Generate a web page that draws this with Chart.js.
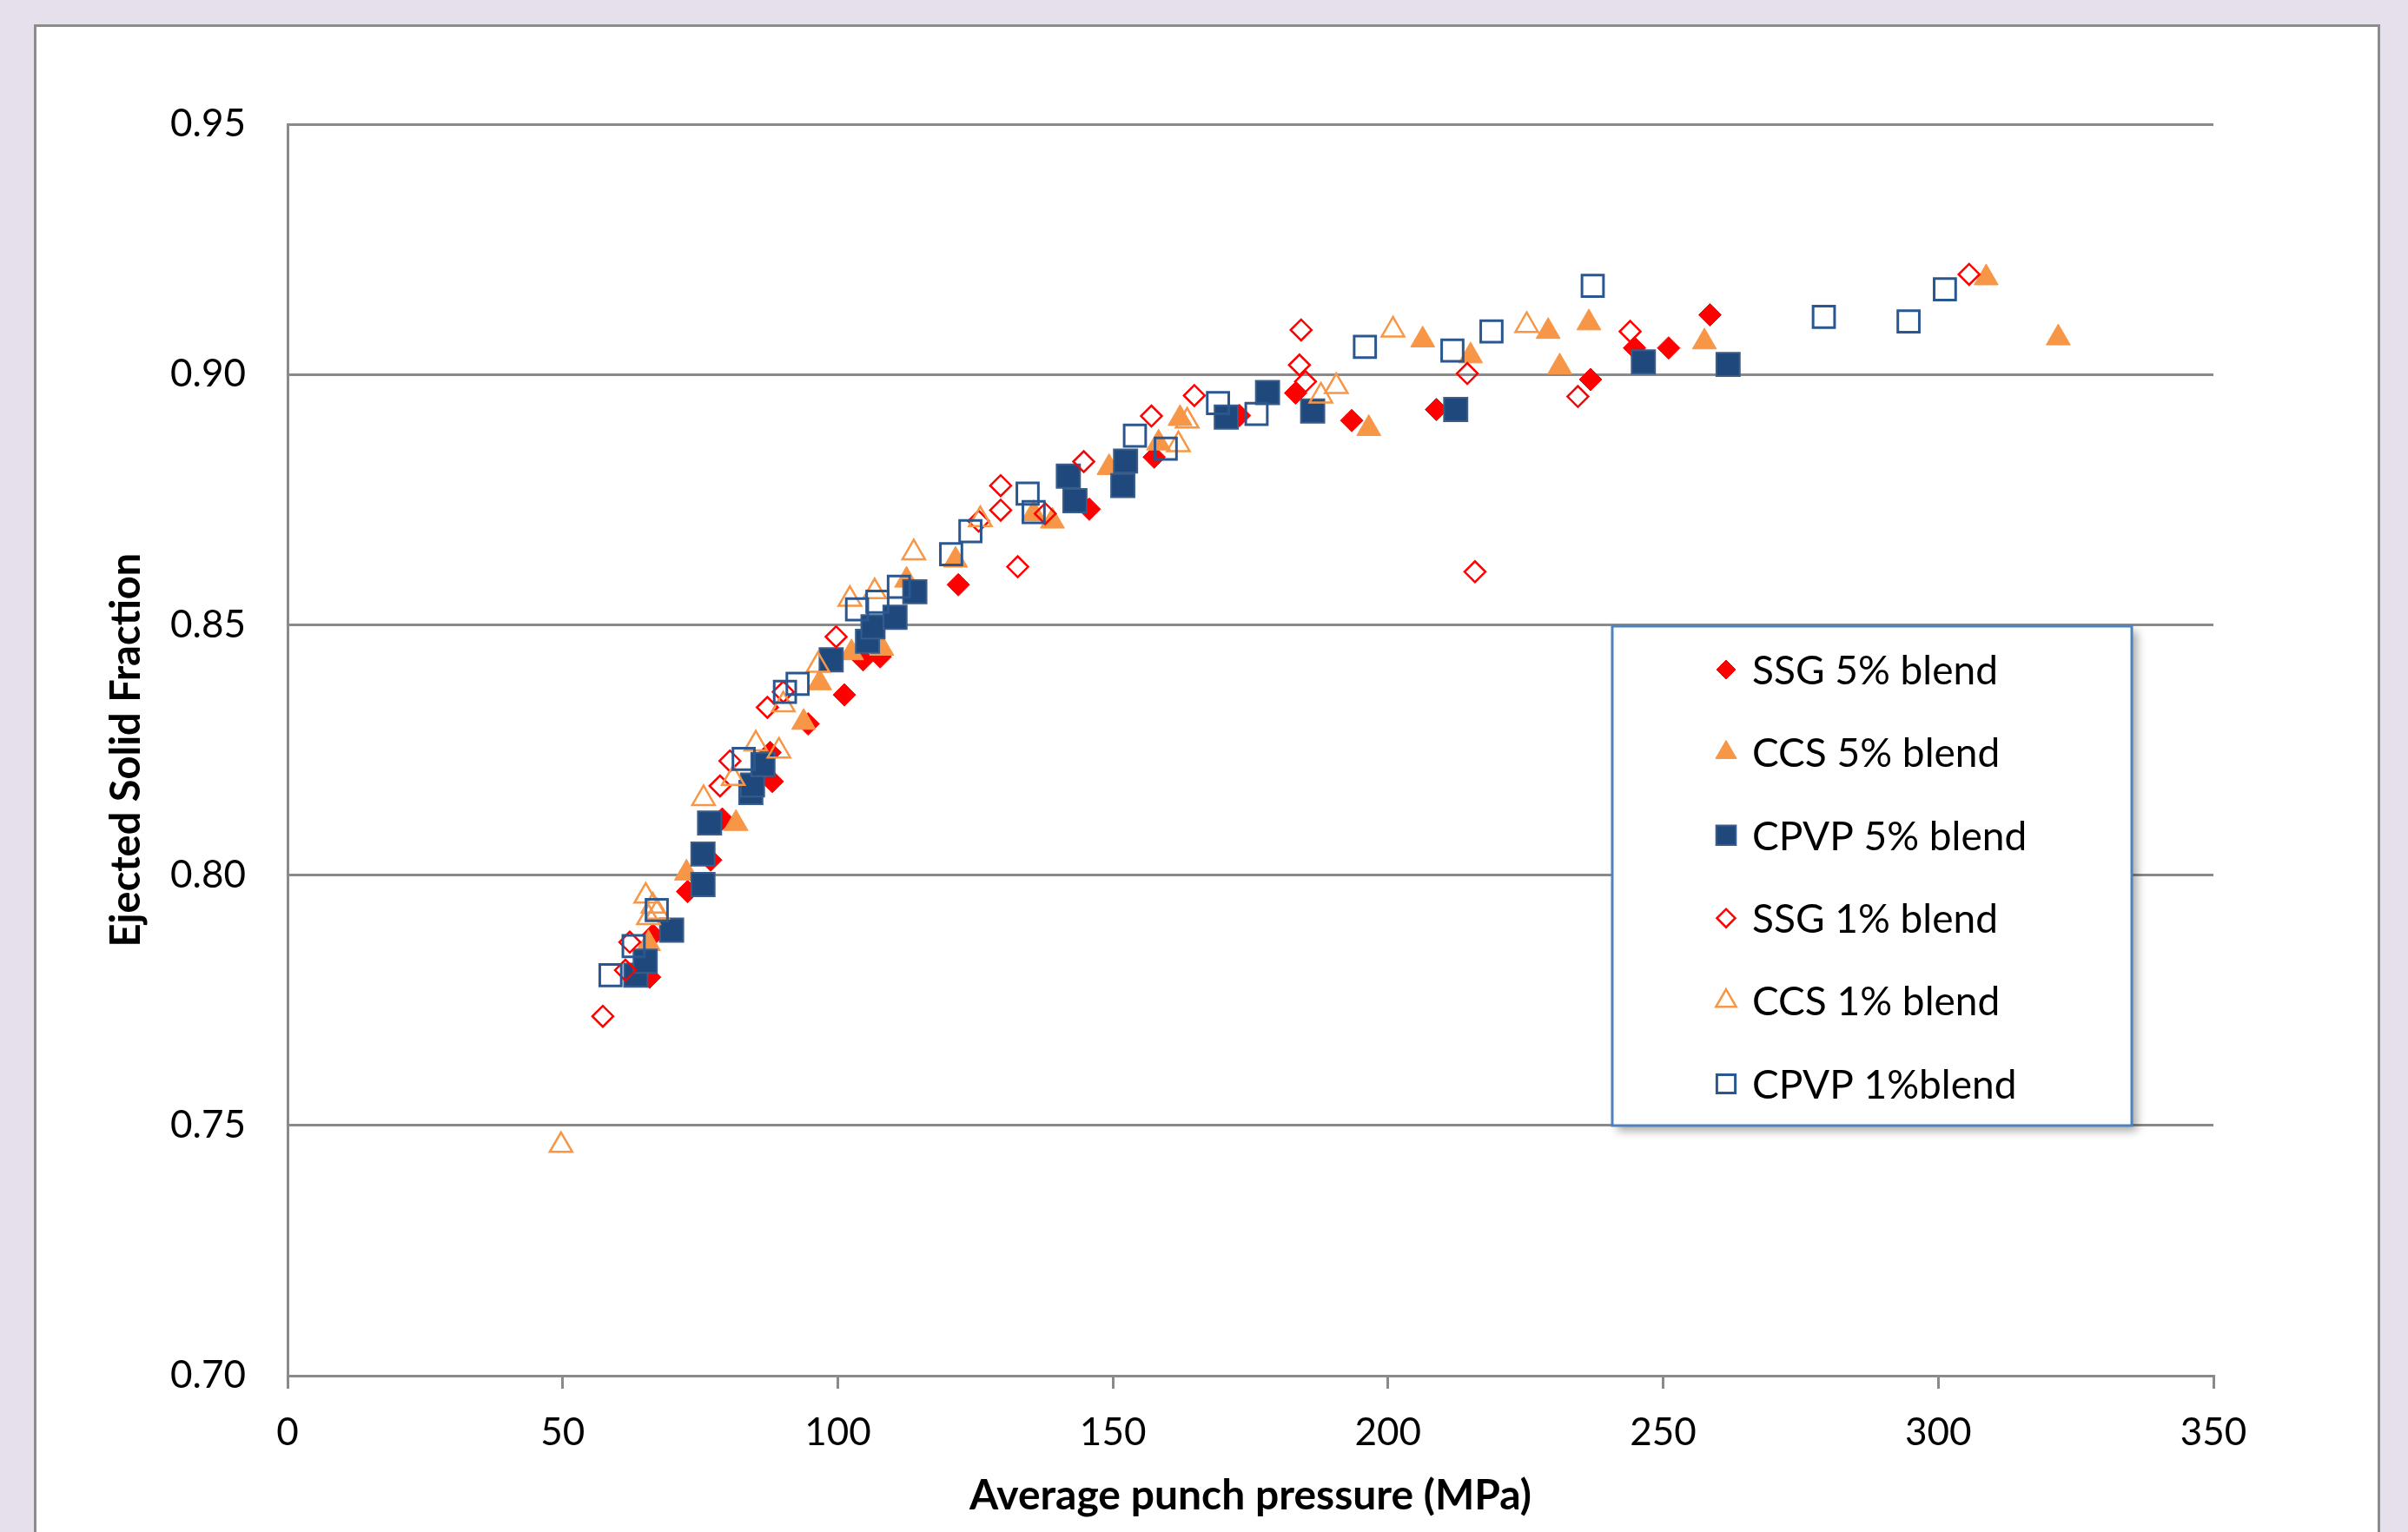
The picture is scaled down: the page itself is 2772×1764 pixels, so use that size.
<!DOCTYPE html>
<html>
<head>
<meta charset="utf-8">
<title>Ejected Solid Fraction</title>
<script src="https://cdn.jsdelivr.net/npm/chart.js"></script>
<style>
    html, body { margin: 0; padding: 0; background: #e5e0ec; overflow: hidden; }
    #tarjeta {
        position: absolute; left: 39px; top: 28px;
        width: 2695px; height: 1800px;
        background: #ffffff; border: 3px solid #8c8c8c;
    }
    #grafica { position: absolute; left: 0; top: 0; }
</style>
</head>
<body>
<div id="tarjeta"></div>
<canvas id="grafica" width="2772" height="1764"></canvas>
<script>
// Datos (presion en MPa, fraccion solida)
const ssg5_x = [65.8, 66.4, 72.7, 76.9, 79.0, 87.7, 88.1, 94.6, 101.2, 104.6, 107.7, 121.9, 145.7, 157.5, 173.0, 183.2, 193.4, 208.8, 236.8, 244.8, 251.0, 258.5];
const ssg5_y = [0.7796, 0.7880, 0.7967, 0.8030, 0.8112, 0.8245, 0.8187, 0.8302, 0.8360, 0.8430, 0.8436, 0.8580, 0.8731, 0.8835, 0.8918, 0.8963, 0.8908, 0.8930, 0.8990, 0.9053, 0.9053, 0.9119];

const ccs5_x = [65.6, 72.5, 81.5, 93.8, 96.7, 102.5, 108.0, 112.5, 121.4, 135.6, 139.0, 149.3, 158.3, 162.2, 196.5, 206.3, 215.0, 229.1, 231.2, 236.5, 257.5, 308.7, 321.8];
const ccs5_y = [0.7863, 0.8004, 0.8103, 0.8305, 0.8384, 0.8444, 0.8453, 0.8589, 0.8629, 0.8722, 0.8707, 0.8814, 0.8863, 0.8912, 0.8892, 0.9069, 0.9037, 0.9086, 0.9015, 0.9103, 0.9065, 0.9193, 0.9073];

const cpvp5_x = [63.3, 65.0, 69.8, 75.5, 75.5, 76.7, 84.2, 84.5, 86.4, 98.8, 105.4, 106.4, 110.4, 114.0, 141.9, 143.1, 151.8, 152.3, 170.6, 178.1, 186.3, 212.3, 246.4, 261.8];
const cpvp5_y = [0.7800, 0.7828, 0.7890, 0.7981, 0.8042, 0.8104, 0.8165, 0.8180, 0.8221, 0.8430, 0.8467, 0.8496, 0.8515, 0.8566, 0.8797, 0.8748, 0.8778, 0.8827, 0.8915, 0.8964, 0.8927, 0.8930, 0.9025, 0.9020];

const ssg1_x = [57.3, 61.4, 62.2, 78.6, 80.4, 87.2, 90.1, 99.7, 125.6, 129.6, 129.6, 132.7, 137.7, 144.7, 157.0, 164.8, 183.9, 184.2, 185.0, 214.4, 215.8, 234.5, 244.0, 305.6];
const ssg1_y = [0.7718, 0.7810, 0.7866, 0.8178, 0.8228, 0.8335, 0.8366, 0.8476, 0.8707, 0.8729, 0.8778, 0.8616, 0.8722, 0.8826, 0.8917, 0.8958, 0.9019, 0.9089, 0.8986, 0.9002, 0.8606, 0.8956, 0.9086, 0.9200];

const ccs1_x = [49.7, 65.1, 65.6, 66.4, 67.2, 75.6, 81.0, 85.1, 89.3, 90.1, 96.4, 102.2, 106.7, 113.8, 125.9, 161.9, 163.5, 187.8, 190.6, 200.9, 225.2];
const ccs1_y = [0.7460, 0.7958, 0.7915, 0.7938, 0.7926, 0.8153, 0.8193, 0.8262, 0.8248, 0.8340, 0.8419, 0.8551, 0.8566, 0.8644, 0.8710, 0.8860, 0.8907, 0.8957, 0.8976, 0.9089, 0.9098];

const cpvp1_x = [58.7, 62.9, 67.1, 82.9, 90.4, 92.7, 103.5, 107.2, 111.1, 120.6, 124.1, 134.5, 135.6, 154.0, 159.6, 169.1, 176.1, 195.8, 211.7, 218.8, 237.2, 279.2, 294.6, 301.2];
const cpvp1_y = [0.7800, 0.7858, 0.7930, 0.8232, 0.8366, 0.8382, 0.8531, 0.8546, 0.8576, 0.8641, 0.8687, 0.8762, 0.8725, 0.8878, 0.8852, 0.8943, 0.8921, 0.9055, 0.9048, 0.9086, 0.9177, 0.9115, 0.9106, 0.9170];

const etiquetas_series = ['SSG 5% blend', 'CCS 5% blend', 'CPVP 5% blend', 'SSG 1% blend', 'CCS 1% blend', 'CPVP 1%blend'];
const ticks_x = [0, 50, 100, 150, 200, 250, 300, 350];
const ticks_y = [0.70, 0.75, 0.80, 0.85, 0.90, 0.95];

const color_gris = '#8a8a8a';
const fuente = 'Lato';

function puntos(xs, ys) {
    return xs.map(function(x, i) { return { x: x, y: ys[i] }; });
}

// Leyenda dibujada dentro del area de trazado, como en Excel
const plugin_leyenda = {
    id: 'leyenda_caja',
    afterDatasetsDraw: function(chart) {
        let ctx = chart.ctx;
        let caja = { x: 1856, y: 721, w: 598, h: 575 };
        let radios = [11, 14, 16, 10.5, 13.5, 15];
        ctx.save();
        ctx.shadowColor = 'rgba(0,0,0,0.35)';
        ctx.shadowBlur = 10;
        ctx.shadowOffsetX = 6;
        ctx.shadowOffsetY = 6;
        ctx.fillStyle = '#ffffff';
        ctx.fillRect(caja.x, caja.y, caja.w, caja.h);
        ctx.shadowColor = 'rgba(0,0,0,0)';
        ctx.lineWidth = 3;
        ctx.strokeStyle = '#4f81bd';
        ctx.strokeRect(caja.x, caja.y, caja.w, caja.h);

        chart.data.datasets.forEach(function(ds, i) {
            let cy = caja.y + 50 + i * 95.4;
            ctx.fillStyle = ds.backgroundColor;
            ctx.strokeStyle = ds.borderColor;
            ctx.lineWidth = ds.borderWidth;
            Chart.helpers.drawPoint(ctx, {
                pointStyle: ds.pointStyle, radius: radios[i], rotation: 0, borderWidth: ds.borderWidth
            }, 1987, cy);
            ctx.fillStyle = '#000000';
            ctx.font = '46px ' + fuente;
            ctx.textAlign = 'left';
            ctx.textBaseline = 'middle';
            ctx.fillText(ds.label, 2017, cy + 2);
        });
        ctx.restore();
    }
};

new Chart(document.getElementById('grafica'), {
    type: 'scatter',
    data: {
        datasets: [
            { label: etiquetas_series[0], data: puntos(ssg5_x, ssg5_y), order: 6,
              pointStyle: 'rectRot', pointRadius: 13, backgroundColor: '#ff0000', borderColor: '#ff0000', borderWidth: 1 },
            { label: etiquetas_series[1], data: puntos(ccs5_x, ccs5_y), order: 5,
              pointStyle: 'triangle', pointRadius: 16, backgroundColor: '#f79646', borderColor: '#f79646', borderWidth: 1 },
            { label: etiquetas_series[2], data: puntos(cpvp5_x, cpvp5_y), order: 4,
              pointStyle: 'rect', pointRadius: 19, backgroundColor: '#1f497d', borderColor: '#385d8a', borderWidth: 2 },
            { label: etiquetas_series[3], data: puntos(ssg1_x, ssg1_y), order: 3,
              pointStyle: 'rectRot', pointRadius: 12, backgroundColor: 'rgba(0,0,0,0)', borderColor: '#ff0000', borderWidth: 2.5 },
            { label: etiquetas_series[4], data: puntos(ccs1_x, ccs1_y), order: 2,
              pointStyle: 'triangle', pointRadius: 15, backgroundColor: 'rgba(0,0,0,0)', borderColor: '#f79646', borderWidth: 2.5 },
            { label: etiquetas_series[5], data: puntos(cpvp1_x, cpvp1_y), order: 1,
              pointStyle: 'rect', pointRadius: 17.5, backgroundColor: 'rgba(0,0,0,0)', borderColor: '#2b5790', borderWidth: 3 }
        ]
    },
    options: {
        responsive: false,
        devicePixelRatio: 1,
        animation: false,
        layout: { padding: { left: 100, top: 143, right: 224, bottom: 0 } },
        plugins: {
            legend: { display: false },
            tooltip: { enabled: false }
        },
        scales: {
            x: {
                type: 'linear',
                min: 0,
                max: 350,
                afterFit: function(scale) { scale.height = 180; },
                afterBuildTicks: function(scale) { scale.ticks = ticks_x.map(function(v) { return { value: v }; }); },
                ticks: { color: '#000000', padding: 24, font: { family: fuente, size: 44 } },
                grid: { drawOnChartArea: false, drawTicks: true, tickLength: 15, color: color_gris, lineWidth: 3 },
                border: { display: true, color: color_gris, width: 3 },
                title: {
                    display: true,
                    text: 'Average punch pressure (MPa)',
                    color: '#000000',
                    font: { family: fuente, size: 48, weight: 'bold' },
                    padding: { top: 0, bottom: 13 }
                }
            },
            y: {
                type: 'linear',
                min: 0.70,
                max: 0.95,
                afterFit: function(scale) { scale.width = 231; },
                afterBuildTicks: function(scale) { scale.ticks = ticks_y.map(function(v) { return { value: v }; }); },
                ticks: {
                    color: '#000000', padding: 48, font: { family: fuente, size: 44 },
                    callback: function(v) { return Number(v).toFixed(2); }
                },
                grid: { drawTicks: false, color: color_gris, lineWidth: 3 },
                border: { display: true, color: color_gris, width: 3 },
                title: {
                    display: true,
                    text: 'Ejected Solid Fraction',
                    color: '#000000',
                    font: { family: fuente, size: 47, weight: 'bold' },
                    padding: { top: 18, bottom: 0 }
                }
            }
        }
    },
    plugins: [plugin_leyenda]
});
</script>
</body>
</html>
